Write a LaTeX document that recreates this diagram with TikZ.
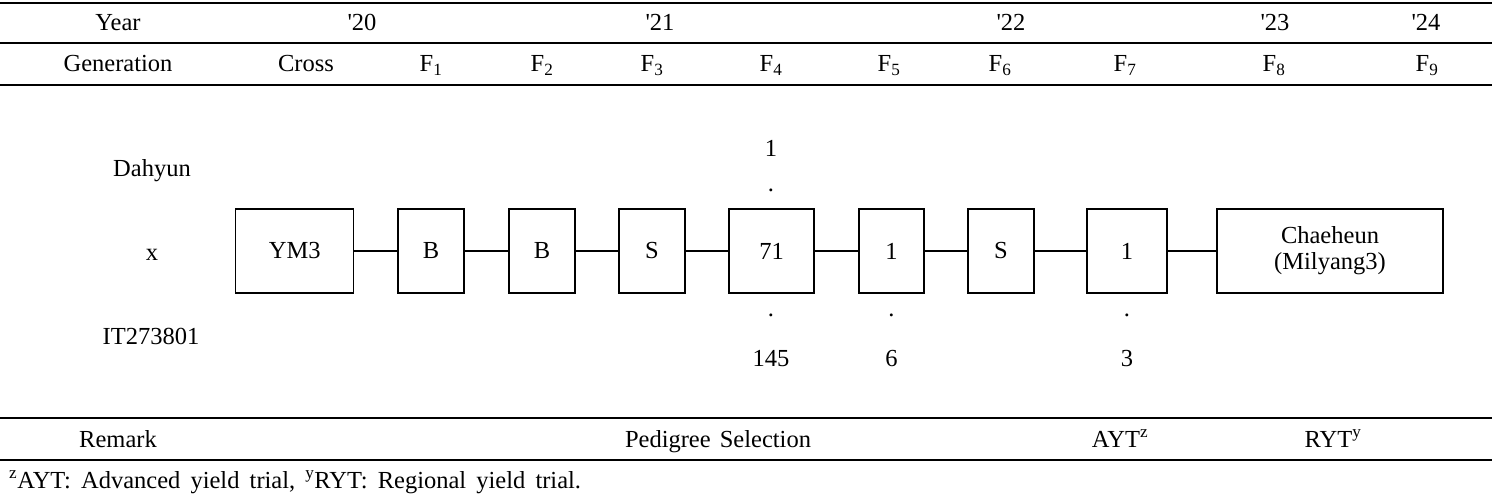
\documentclass[tikz,border=0pt]{standalone}
\usepackage{fontspec}
\setmainfont{Liberation Serif}
\begin{document}
\begin{tikzpicture}[x=1pt,y=-1pt,
  txt/.style={font=\fontsize{24.5}{27}\selectfont, anchor=base, inner sep=0},
  stage/.style={draw, line width=1.2pt, minimum height=84pt, inner sep=0,
    font=\fontsize{24.5}{26}\selectfont, align=center},
  conn/.style={line width=1.2pt},
  tablerule/.style={line width=1.4pt}]
\useasboundingbox (0,0) rectangle (1492,500);
% table rules
\draw[tablerule] (0,3) -- (1492,3);
\draw[tablerule] (0,43) -- (1492,43);
\draw[tablerule] (0,85) -- (1492,85);
\draw[tablerule] (0,418) -- (1492,418);
\draw[tablerule] (0,460) -- (1492,460);
% year row
\node[txt] (yr) at (118,31) {Year};
\node[txt] (y20) at (362,31) {\textquotesingle20};
\node[txt] (y21) at (660,31) {\textquotesingle21};
\node[txt] (y22) at (1011,31) {\textquotesingle22};
\node[txt] (y23) at (1275,31) {\textquotesingle23};
\node[txt] (y24) at (1426,31) {\textquotesingle24};
% generation row
\node[txt] (gen) at (118,72) {Generation};
\node[txt] (gcr) at (306,72) {Cross};
\node[txt] (g1) at (431,72) {F\textsubscript{1}};
\node[txt] (g2) at (542,72) {F\textsubscript{2}};
\node[txt] (g3) at (652,72) {F\textsubscript{3}};
\node[txt] (g4) at (771,72) {F\textsubscript{4}};
\node[txt] (g5) at (889,72) {F\textsubscript{5}};
\node[txt] (g6) at (1000,72) {F\textsubscript{6}};
\node[txt] (g7) at (1125,72) {F\textsubscript{7}};
\node[txt] (g8) at (1274,72) {F\textsubscript{8}};
\node[txt] (g9) at (1427,72) {F\textsubscript{9}};
% parents
\node[txt] (p1) at (152,177) {Dahyun};
\node[txt] (px) at (152,260) {x};
\node[txt] (p2) at (151,344) {IT273801};
% stages
\node[stage, minimum width=118pt] (ym3) at (294.7,251) {YM3};
\node[stage, minimum width=66pt] (b1) at (431,251) {B};
\node[stage, minimum width=66pt] (b2) at (542,251) {B};
\node[stage, minimum width=66pt] (s1) at (652,251) {S};
\node[stage, minimum width=85pt] (n71) at (771.5,251) {71};
\node[stage, minimum width=65pt] (n1a) at (891.5,251) {1};
\node[stage, minimum width=66pt] (s2) at (1001,251) {S};
\node[stage, minimum width=80pt] (n1b) at (1127,251) {1};
\node[stage, minimum width=226pt] (ch) at (1330,251) {Chaeheun\\(Milyang3)};
\draw[conn] (ym3) -- (b1);
\draw[conn] (b1) -- (b2);
\draw[conn] (b2) -- (s1);
\draw[conn] (s1) -- (n71);
\draw[conn] (n71) -- (n1a);
\draw[conn] (n1a) -- (s2);
\draw[conn] (s2) -- (n1b);
\draw[conn] (n1b) -- (ch);
% line numbers
\node[txt] (a1) at (771,157) {1};
\node[txt] (ad1) at (771,191) {.};
\node[txt] (ad2) at (771,316) {.};
\node[txt] (a145) at (771,366) {145};
\node[txt] (bd) at (891.5,316) {.};
\node[txt] (b6) at (891.5,366) {6};
\node[txt] (cd) at (1127,316) {.};
\node[txt] (c3) at (1127,366) {3};
% remark row
\node[txt] (rm) at (118,447) {Remark};
\node[txt] (ps) at (718,447) {Pedigree\hspace{3pt} Selection};
\node[txt] (ayt) at (1120,447) {AYT\textsuperscript{z}};
\node[txt] (ryt) at (1333,447) {RYT\textsuperscript{y}};
% footnote
\node[txt, anchor=base west] (fn) at (9,488) {\textsuperscript{z}AYT:\hspace{4pt} Advanced\hspace{4pt} yield\hspace{4pt} trial,\hspace{4pt} \textsuperscript{y}RYT:\hspace{4pt} Regional\hspace{4pt} yield\hspace{4pt} trial.};
\end{tikzpicture}
\end{document}
